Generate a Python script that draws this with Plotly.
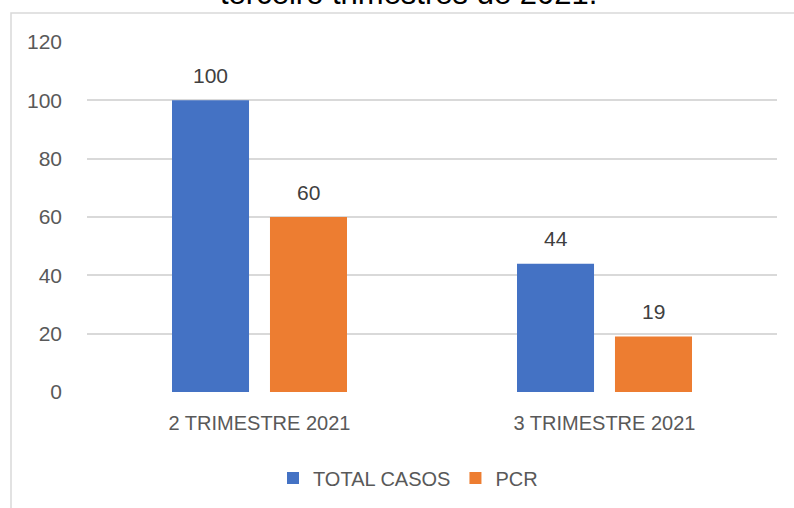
import plotly.graph_objects as go

categories = ["2 TRIMESTRE 2021", "3 TRIMESTRE 2021"]
total_casos = [100, 44]
pcr = [60, 19]
y_ticks = [0, 20, 40, 60, 80, 100, 120]
title_text = "terceiro trimestres de 2021."

FONT = "Liberation Sans, Arial, sans-serif"
BLUE = "#4472C4"
ORANGE = "#ED7D31"

fig = go.Figure()
fig.add_trace(go.Bar(name="TOTAL CASOS", x=categories, y=total_casos,
                     marker=dict(color=BLUE, line=dict(width=0))))
fig.add_trace(go.Bar(name="PCR", x=categories, y=pcr,
                     marker=dict(color=ORANGE, line=dict(width=0))))

annotations = []
for series, shift in ((total_casos, -49), (pcr, 49)):
    for c, v in zip(categories, series):
        annotations.append(dict(x=c, y=v, xref="x", yref="y", text=str(v),
                                showarrow=False, xshift=shift, yshift=25,
                                yanchor="middle",
                                font=dict(family=FONT, size=21, color="#404040")))

annotations.append(dict(x=(408 - 87) / 690, y=1 + (42 + 6) / 350,
                        xref="paper", yref="paper", text=title_text,
                        showarrow=False, xanchor="center", yanchor="middle",
                        font=dict(family=FONT, size=31, color="#000000")))

fig.update_layout(
    width=794, height=508,
    margin=dict(l=87, r=17, t=42, b=116, autoexpand=False),
    paper_bgcolor="white", plot_bgcolor="white",
    barmode="group", bargap=0.432, bargroupgap=0.214,
    font=dict(family=FONT, size=20, color="#595959"),
    showlegend=True,
    legend=dict(orientation="h", x=(408 - 87) / 690, xanchor="center",
                y=(392 - 478) / 350, yanchor="middle",
                font=dict(family=FONT, size=20, color="#595959"),
                itemwidth=30, traceorder="normal"),
    annotations=annotations,
    shapes=[dict(type="rect", xref="paper", yref="paper",
                 x0=(11 - 87) / 690, x1=1.2, y0=-0.6, y1=1 + (42 - 13) / 350,
                 line=dict(color="#D9D9D9", width=1.5), layer="below")],
)
fig.update_xaxes(range=[-0.5, 1.5], showgrid=False, showline=False,
                 zeroline=False, ticks="", ticklabelstandoff=17,
                 tickfont=dict(family=FONT, size=20, color="#595959"))
fig.update_yaxes(range=[0, 120], tickvals=y_ticks, showgrid=True,
                 gridcolor="#D9D9D9", gridwidth=1.5, zeroline=False,
                 showline=False, ticks="", ticklabelstandoff=24,
                 tickfont=dict(family=FONT, size=21, color="#595959"))

fig.write_html("out.html", config={"displayModeBar": False},
               post_script="document.body.style.margin='0px';document.body.style.overflow='hidden';")
